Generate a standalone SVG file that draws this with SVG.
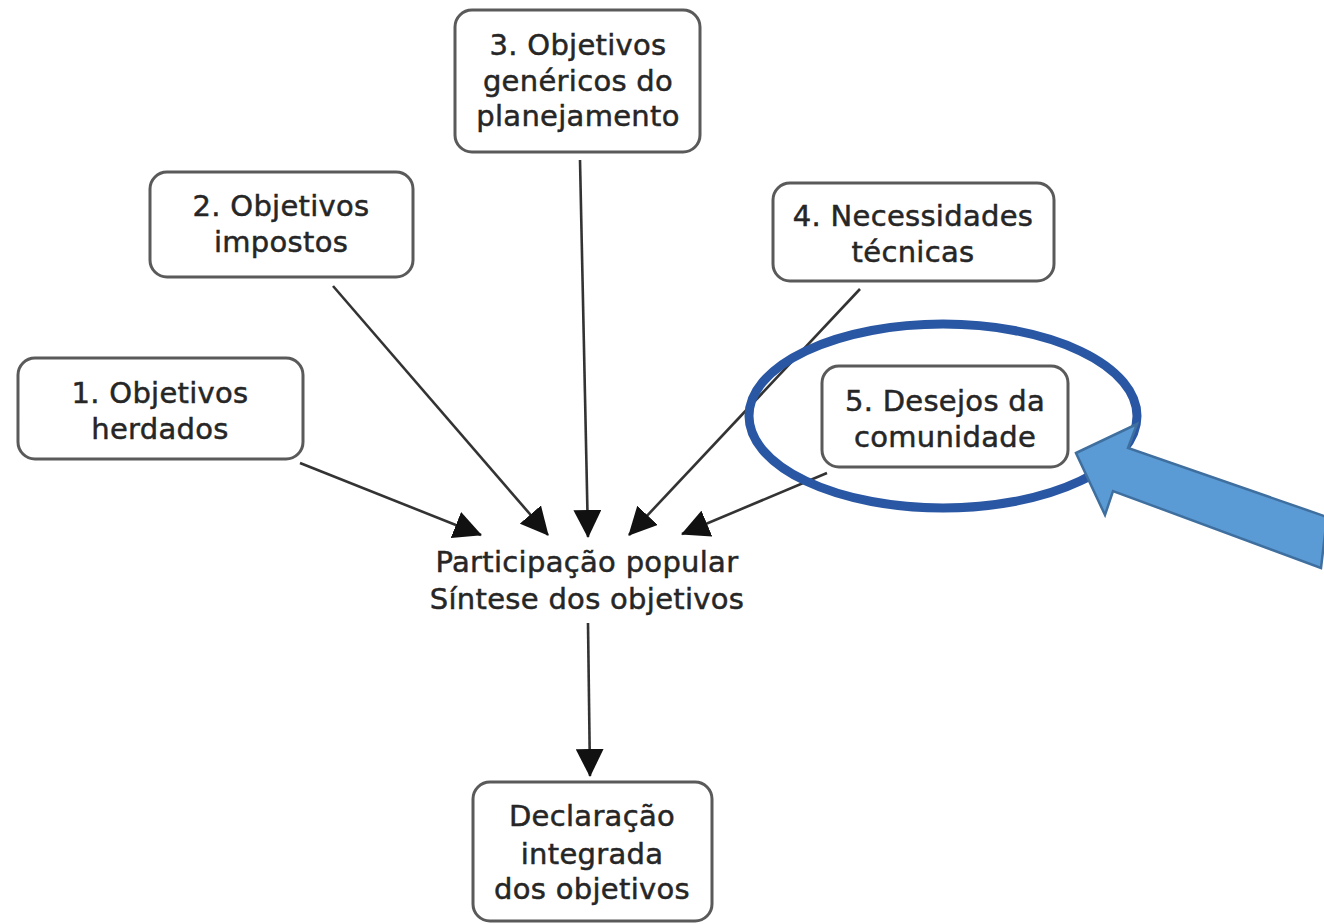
<svg xmlns="http://www.w3.org/2000/svg" width="1324" height="924" viewBox="0 0 1324 924">
  <style>
    .box { fill: #ffffff; stroke: #5a5a5a; stroke-width: 3; }
    .lbl { font-family: "DejaVu Sans", Verdana, sans-serif; font-size: 29px; fill: #262626; stroke: #262626; stroke-width: 0.5; letter-spacing: 0.3px; text-anchor: middle; }
    .edge { stroke: #333333; stroke-width: 2.6; fill: none; marker-end: url(#head); }
  </style>
  <defs>
    <marker id="head" markerUnits="userSpaceOnUse" markerWidth="28" markerHeight="28" refX="27" refY="14" orient="auto" viewBox="0 0 28 28">
      <path d="M0,0 L28,14 L0,28 Z" fill="#111111"/>
    </marker>
  </defs>
  <rect width="1324" height="924" fill="#ffffff"/>

  <!-- connectors -->
  <g id="connectors">
    <line class="edge" x1="300" y1="463" x2="481" y2="535"/>
    <line class="edge" x1="333" y1="286" x2="548" y2="535"/>
    <line class="edge" x1="580" y1="160" x2="588" y2="537"/>
    <line class="edge" x1="860" y1="289" x2="629" y2="535"/>
    <line class="edge" x1="827" y1="473" x2="682" y2="534"/>
    <line class="edge" x1="588" y1="623" x2="590" y2="776"/>
  </g>

  <g id="n3">
    <rect class="box" x="455" y="10" width="245" height="142" rx="17"/>
    <text class="lbl" x="578" y="55">3. Objetivos</text>
    <text class="lbl" x="578" y="91">genéricos do</text>
    <text class="lbl" x="578" y="126">planejamento</text>
  </g>

  <g id="n2">
    <rect class="box" x="150" y="172" width="263" height="105" rx="17"/>
    <text class="lbl" x="281" y="216">2. Objetivos</text>
    <text class="lbl" x="281" y="252">impostos</text>
  </g>

  <g id="n1">
    <rect class="box" x="18" y="358" width="285" height="101" rx="17"/>
    <text class="lbl" x="160" y="403">1. Objetivos</text>
    <text class="lbl" x="160" y="439">herdados</text>
  </g>

  <g id="n4">
    <rect class="box" x="773" y="183" width="281" height="98" rx="17"/>
    <text class="lbl" x="913" y="226">4. Necessidades</text>
    <text class="lbl" x="913" y="262">técnicas</text>
  </g>

  <g id="n5">
    <rect class="box" x="822" y="366" width="246" height="101" rx="17"/>
    <text class="lbl" x="945" y="411">5. Desejos da</text>
    <text class="lbl" x="945" y="447">comunidade</text>
  </g>

  <g id="center">
    <text class="lbl" x="587" y="572">Participação popular</text>
    <text class="lbl" x="587" y="609">Síntese dos objetivos</text>
  </g>

  <g id="n6">
    <rect class="box" x="473" y="782" width="239" height="139" rx="17"/>
    <text class="lbl" x="592" y="826">Declaração</text>
    <text class="lbl" x="592" y="864">integrada</text>
    <text class="lbl" x="592" y="899">dos objetivos</text>
  </g>

  <!-- highlight ring and pointer -->
  <g id="highlight">
    <ellipse cx="943" cy="416" rx="194" ry="92" fill="none" stroke="#2a57a4" stroke-width="9"/>
    <polygon points="1076,453 1137,424 1128,448 1327,517 1321,568 1113,491 1105,515" fill="#5b9bd5" stroke="#3f6f9f" stroke-width="2.5" stroke-linejoin="miter"/>
  </g>
</svg>
